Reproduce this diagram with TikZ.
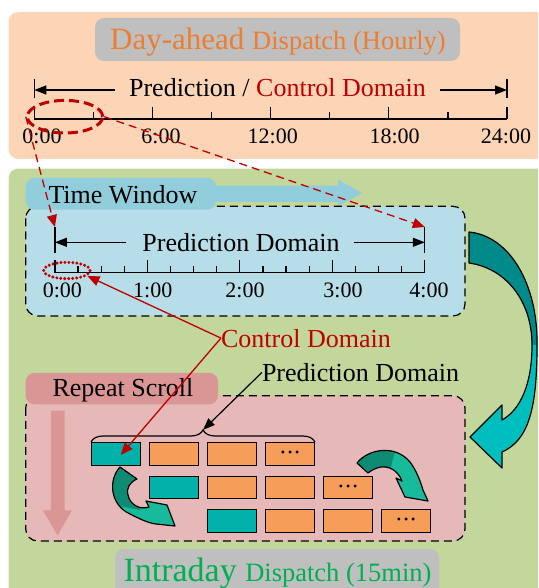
\documentclass[tikz,border=0pt]{standalone}
\usepackage{fontspec}
\setmainfont{Liberation Serif}
\usetikzlibrary{arrows.meta,decorations.pathreplacing,shapes.geometric}

\definecolor{peach}{HTML}{FBD5B5}
\definecolor{olive}{HTML}{C3D69B}
\definecolor{greylab}{HTML}{BFBFBF}
\definecolor{titleorange}{HTML}{ED7D31}
\definecolor{ltblue}{HTML}{B7DDE8}
\definecolor{midblue}{HTML}{92CDDC}
\definecolor{ltpink}{HTML}{E6B9B8}
\definecolor{midpink}{HTML}{D99694}
\definecolor{darkred}{HTML}{C00000}
\definecolor{intragreen}{HTML}{00B050}
\definecolor{tealbox}{HTML}{00B2A9}
\definecolor{orangebox}{HTML}{F79D5A}
\definecolor{bigteal}{HTML}{008A8A}
\definecolor{bigcyan}{HTML}{00BEBE}
\definecolor{smdark}{HTML}{0F8B73}
\definecolor{smlight}{HTML}{17BA9A}

\begin{document}
\begin{tikzpicture}[x=1pt,y=-1pt,
  main/.style={font=\fontsize{26}{28}\selectfont, inner sep=0pt, anchor=base},
  ticklab/.style={font=\fontsize{22}{24}\selectfont, inner sep=0pt, anchor=base},
  lw/.style={line width=1.2pt},
  dimtip/.style={lw, -{Triangle[length=12pt,width=9pt]}},
  redtip/.style={draw=darkred, line width=1.3pt, -{Triangle[length=12pt,width=10pt]}},
  reddash/.style={redtip, dash pattern=on 8pt off 5pt},
  dashbox/.style={draw=black, line width=1.2pt, dash pattern=on 8pt off 5pt, rounded corners=12pt},
  cell/.style={draw=black, line width=1.2pt, minimum width=49pt, minimum height=22.5pt, inner sep=0pt, anchor=north west, font=\fontsize{12}{12}\selectfont},
  tcell/.style={cell, fill=tealbox},
  ocell/.style={cell, fill=orangebox},
  lbox/.style={rounded corners=9pt}
]
\useasboundingbox (0,0) rectangle (538,588);
\clip (0,0) rectangle (538,588);

% ---------- panels ----------
\fill[peach, rounded corners=10pt] (8.5,12) rectangle (570,159);
\fill[olive, rounded corners=10pt] (8.5,168.5) rectangle (570,620);

% ---------- day-ahead ----------
\fill[greylab, lbox] (95,18) rectangle (460,61);
\node[main, text=titleorange] (dtitle) at (278,49.7) {\fontsize{31}{33}\selectfont Day-ahead \fontsize{26.5}{28}\selectfont Dispatch (Hourly)};

\coordinate (dL) at (34.3,90);
\coordinate (dR) at (507,90);
\draw[lw] (34.3,79) -- (34.3,98);
\draw[lw] (507,79) -- (507,98);
\node[main] (dtext) at (277.5,97) {Prediction / \textcolor{darkred}{Control Domain}};
\draw[dimtip, shorten <=14pt] (dtext.west |- dL) -- (dL);
\draw[dimtip, shorten <=14pt] (dtext.east |- dR) -- (dR);

\draw[lw] (34.3,119) -- (507,119);
\foreach \i in {0,...,4} \draw[lw] ({34.3+118.175*\i},107) -- ({34.3+118.175*\i},119);
\foreach \i in {0,...,3} \draw[lw] ({34.3+59.09+118.175*\i},112) -- ({34.3+59.09+118.175*\i},119);
\foreach \i/\lab/\cx in {0/0:00/42, 1/6:00/161, 2/12:00/272.8, 3/18:00/394.6, 4/24:00/506}
  \node[ticklab] (ta\i) at (\cx,144) {\lab};

\node[draw=darkred, ellipse, minimum width=75.4pt, minimum height=32.6pt, inner sep=0pt,
      line width=3pt, dash pattern=on 10pt off 5pt] (ellA) at (65,116.7) {};

% ---------- big curved arrow ----------
\def\bigArrowPath{(469,232) .. controls (510,236) and (538,285) .. (537,345)
  .. controls (537,408) and (529,440) .. (502,452) -- (502,468) -- (470,437) -- (502,405) -- (502,420)
  .. controls (520,410) and (532,385) .. (532,345)
  .. controls (532,300) and (505,268) .. (469,263) -- cycle}
\fill[bigcyan] \bigArrowPath;
\begin{scope}
  \clip (460,220) rectangle (545,344);
  \fill[bigteal] \bigArrowPath;
\end{scope}
\draw[lw, line join=round] \bigArrowPath;

% ---------- time window / prediction box ----------
\fill[midblue] (214,185.7) -- (338,185.7) -- (338,179.9) -- (362,193) -- (338,206.3) -- (338,201.9) -- (214,201.9) -- cycle;
\path[fill=ltblue, dashbox] (25.7,206.3) rectangle (465,316);
\fill[midblue, lbox] (25.7,177.8) rectangle (216,209.7);
\node[main] (twin) at (123,203) {Time Window};

\coordinate (pbL) at (54.9,227);
\coordinate (pbR) at (424.8,227);
\coordinate (pmL) at (54.9,242.3);
\coordinate (pmR) at (424.8,242.3);
\draw[lw] (pbL) -- (54.9,252.6);
\draw[lw] (pbR) -- (424.8,252.6);
\node[main] (ptext) at (241,251) {Prediction Domain};
\draw[dimtip, shorten <=16pt] (ptext.west |- pmL) -- (pmL);
\draw[dimtip, shorten <=14pt] (ptext.east |- pmR) -- (pmR);

\draw[lw] (54.9,272.5) -- (424.8,272.5);
\foreach \i in {0,...,4} \draw[lw] ({54.9+92.475*\i},259.5) -- ({54.9+92.475*\i},272.5);
\foreach \i in {1,...,15} \draw[lw] ({54.9+23.119*\i},266.4) -- ({54.9+23.119*\i},272.5);
\foreach \i/\lab/\cx in {0/0:00/62.4, 1/1:00/152.7, 2/2:00/245, 3/3:00/343, 4/4:00/429}
  \node[ticklab] (tb\i) at (\cx,297) {\lab};

\node[draw=darkred, ellipse, minimum width=46.4pt, minimum height=16.4pt, inner sep=0pt,
      line width=3.3pt, dash pattern=on 0pt off 4pt, line cap=round] (ellB) at (66.9,270.5) {};

% ---------- repeat scroll box ----------
\path[fill=ltpink, dashbox] (25.7,395.8) rectangle (465,541);
\fill[midpink, lbox] (25.7,372.8) rectangle (218,404.4);
\node[main] (rscroll) at (123,396.5) {Repeat Scroll};
\fill[midpink] (50.8,410.5) -- (64.5,410.5) -- (64.5,510.3) -- (72,510.3) -- (57.6,535.4) -- (42.9,510.3) -- (50.8,510.3) -- cycle;

% rows of cells
\node[tcell] (r1c1) at (91,442) {};
\node[ocell] (r1c2) at (149,442) {};
\node[ocell] (r1c3) at (207,442) {};
\node[ocell] (r1c4) at (265,442) {• • •};
\node[tcell] (r2c2) at (149,475.5) {};
\node[ocell] (r2c3) at (207,475.5) {};
\node[ocell] (r2c4) at (265,475.5) {};
\node[ocell] (r2c5) at (323,475.5) {• • •};
\node[tcell] (r3c3) at (207,509) {};
\node[ocell] (r3c4) at (265,509) {};
\node[ocell] (r3c5) at (323,509) {};
\node[ocell] (r3c6) at (381,509) {• • •};

% brace
\draw[lw, decorate, decoration={brace, amplitude=12pt}] (91,442) -- (315,442);
\coordinate (braceTip) at (203,430);

% small curved arrows
\def\smArrowA{(120,467) .. controls (108,480) and (110,505) .. (130,514) .. controls (140,519) and (148,523) .. (156,524)
  -- (175,526) -- (167,505) -- (146,501) -- (149,507) .. controls (140,510) and (130,505) .. (128,495)
  .. controls (126,488) and (130,482) .. (137,479) -- cycle}
\fill[smlight] \smArrowA;
\begin{scope}
  \clip (100,455) -- (165,455) -- (140,510) -- (100,502) -- cycle;
  \fill[smdark] \smArrowA;
\end{scope}
\draw[lw, line join=round] \smArrowA;

\def\smArrowB{(357,463) .. controls (368,449) and (395,444) .. (410,462) .. controls (416,470) and (420,480) .. (423,490)
  -- (428,501) -- (405,497) -- (396,478) -- (402,481) .. controls (398,470) and (385,460) .. (368,473) -- cycle}
\fill[smlight] \smArrowB;
\begin{scope}
  \clip (340,440) -- (398,440) -- (388,478) -- (340,478) -- cycle;
  \fill[smdark] \smArrowB;
\end{scope}
\draw[lw, line join=round] \smArrowB;

% ---------- labels and arrows ----------
\node[main, text=darkred] (cdom) at (306,347) {Control Domain};
\node[main] (pdom) at (360.6,381.4) {Prediction Domain};
\draw[redtip] (cdom.west) -- (ellB.-15);
\draw[redtip] (cdom.west) -- ([shift={(4.7,1)}]r1c1.center);
\draw[lw, -{Triangle[length=12pt,width=9pt]}] (pdom.west) -- (braceTip);

% ---------- intraday ----------
\fill[greylab, lbox] (115,549) rectangle (439,620);
\node[main, text=intragreen] (ititle) at (277.5,581.4) {\fontsize{34}{36}\selectfont Intraday \fontsize{26.5}{28}\selectfont Dispatch (15min)};

% dashed red connectors
\draw[reddash] (ellA.west) -- (pbL);
\draw[reddash] (ellA.east) -- (pbR);
\end{tikzpicture}
\end{document}
